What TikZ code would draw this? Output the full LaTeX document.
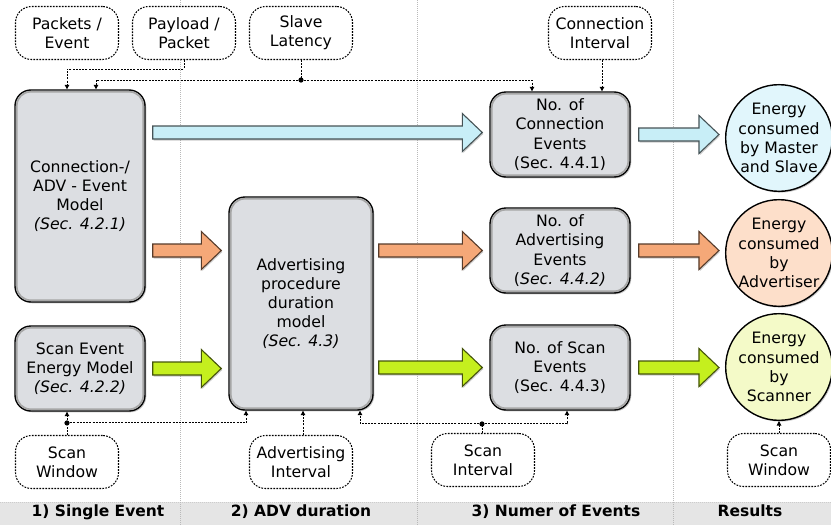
\documentclass[tikz,border=0pt]{standalone}
\usepackage{fontspec}
\setmainfont{DejaVu Sans}
\usetikzlibrary{arrows.meta,shadows,calc}
\definecolor{boxgray}{HTML}{DCDEE2}
\definecolor{arrblue}{HTML}{C8EEF7}
\definecolor{arrorange}{HTML}{F5A878}
\definecolor{arrgreen}{HTML}{C5EF1E}
\definecolor{circblue}{HTML}{E1F6FC}
\definecolor{circpeach}{HTML}{FDDFCA}
\definecolor{circyellow}{HTML}{F4FAC8}
\definecolor{bandgray}{HTML}{E5E5E5}
\tikzset{
 mainbox/.style={draw=black, line width=1.4pt, fill=boxgray, rounded corners=16pt, align=center, inner sep=0pt,
   drop shadow={opacity=0.45,shadow xshift=1.3pt,shadow yshift=-1.3pt}},
 param/.style={draw=black, line width=1.05pt, dash pattern=on 1.7pt off 1.3pt, rounded corners=16pt,
   minimum width=103pt, minimum height=53pt, align=center, inner sep=0pt, fill=white},
 result/.style={circle, draw=black, line width=1.4pt, minimum size=102pt, inner sep=0pt, align=center,
   drop shadow={opacity=0.45,shadow xshift=1.3pt,shadow yshift=-1.3pt}},
 conn/.style={line width=1pt, dash pattern=on 2pt off 1.2pt},
 tip/.style={-{Triangle[length=4.5pt,width=4.5pt]}},
 sepline/.style={gray!55, line width=0.8pt, dash pattern=on 1pt off 1pt},
 fat/.style={fill=#1, draw=#1!35!black, line width=1.1pt, line join=miter,
   drop shadow={opacity=0.4,shadow xshift=1pt,shadow yshift=-1.5pt}},
 bandlabel/.style={font=\fontsize{15.5}{19}\selectfont\bfseries, anchor=base},
}
\newcommand\fatarrow[3]{%
  \path[fat=#1] let \p1=(#2), \p2=(#3) in
   (\x1,\y1+6.5pt) -- (\x2-20pt,\y1+6.5pt) -- (\x2-20pt,\y1+19pt) -- (\x2,\y1)
   -- (\x2-20pt,\y1-19pt) -- (\x2-20pt,\y1-6.5pt) -- (\x1,\y1-6.5pt) -- cycle;}
\newcommand\innerglow[1]{%
  \draw[gray!70, line width=1.8pt, rounded corners=14pt]
   ([shift={(2.4pt,-2.4pt)}]#1.north west) rectangle ([shift={(-2.4pt,2.4pt)}]#1.south east);}
\begin{document}
\begin{tikzpicture}[x=1pt,y=-1pt, font=\fontsize{15.7}{19.2}\selectfont]
\useasboundingbox (0,0) rectangle (831,525);
% bottom band
\fill[bandgray] (0,502) rectangle (831,525);
\draw[sepline, gray!40] (0,502) -- (831,502);
% separators
\draw[sepline] (180,0) -- (180,525);
\draw[sepline] (417,0) -- (417,525);
\draw[sepline] (673,0) -- (673,525);

% main boxes
\node[mainbox, minimum width=130pt, minimum height=212pt] (cev) at (80,196)
  {Connection-/\\ADV - Event\\Model\\\textit{(Sec. 4.2.1)}};
\node[mainbox, minimum width=130pt, minimum height=85pt] (sev) at (80,368.5)
  {Scan Event\\Energy Model\\\textit{(Sec. 4.2.2)}};
\node[mainbox, minimum width=144pt, minimum height=213pt] (adv) at (301,303.5)
  {Advertising\\procedure\\duration\\model\\\textit{(Sec. 4.3)}};
\node[mainbox, minimum width=140pt, minimum height=85pt] (ncon) at (560,134.5)
  {No. of\\Connection\\Events\\(Sec. 4.4.1)};
\node[mainbox, minimum width=140pt, minimum height=85pt] (nadv) at (560,250.5)
  {No. of\\Advertising\\Events\\(\textit{Sec. 4.4.2)}};
\node[mainbox, minimum width=140pt, minimum height=85pt] (nscan) at (560,367.5)
  {No. of Scan\\Events\\(Sec. 4.4.3)};
\innerglow{cev}
\innerglow{sev}
\innerglow{adv}
\innerglow{ncon}
\innerglow{nadv}
\innerglow{nscan}

% result circles
\node[result, fill=circblue] (cms) at (779,138) {Energy\\consumed\\by Master\\and Slave};
\node[result, fill=circpeach] (cadv) at (779,253) {Energy\\consumed\\by\\Advertiser};
\node[result, fill=circyellow] (cscan) at (779,367) {Energy\\consumed\\by\\Scanner};

% parameter nodes
\node[param] (ppe) at (67,33) {Packets /\\Event};
\node[param] (ppp) at (184,33) {Payload /\\Packet};
\node[param] (sl) at (301,33) {Slave\\Latency};
\node[param] (ci) at (600,33) {Connection\\Interval};
\node[param] (swl) at (67,462) {Scan\\Window};
\node[param] (ai) at (301,462) {Advertising\\Interval};
\node[param] (si) at (483,460) {Scan\\Interval};
\node[param] (swr) at (779,460) {Scan\\Window};

% fat arrows
\coordinate (b1s) at ($(cev.east |- ncon.west)+(7pt,2pt)$);
\coordinate (b1t) at ($(ncon.west)+(-7pt,0)$);
\fatarrow{arrblue}{b1s}{b1t}
\coordinate (b2s) at ($(ncon.east)+(8pt,0)$);
\coordinate (b2t) at ($(cms.west |- ncon.east)+(-6pt,0)$);
\fatarrow{arrblue}{b2s}{b2t}
\coordinate (o1s) at ($(cev.east |- nadv.west)+(7pt,0)$);
\coordinate (o1t) at ($(adv.west |- nadv.west)+(-7pt,0)$);
\fatarrow{arrorange}{o1s}{o1t}
\coordinate (o2s) at ($(adv.east |- nadv.west)+(5pt,0)$);
\coordinate (o2t) at ($(nadv.west)+(-7pt,0)$);
\fatarrow{arrorange}{o2s}{o2t}
\coordinate (o3s) at ($(nadv.east)+(8pt,0)$);
\coordinate (o3t) at ($(cadv.west |- nadv.east)+(-6pt,0)$);
\fatarrow{arrorange}{o3s}{o3t}
\coordinate (g1s) at ($(sev.east)+(7pt,0)$);
\coordinate (g1t) at ($(adv.west |- sev.east)+(-7pt,0)$);
\fatarrow{arrgreen}{g1s}{g1t}
\coordinate (g2s) at ($(adv.east |- nscan.west)+(5pt,0)$);
\coordinate (g2t) at ($(nscan.west)+(-7pt,0)$);
\fatarrow{arrgreen}{g2s}{g2t}
\coordinate (g3s) at ($(nscan.east)+(8pt,0)$);
\coordinate (g3t) at ($(cscan.west |- nscan.east)+(-6pt,0)$);
\fatarrow{arrgreen}{g3s}{g3t}

% top dotted connectors
\draw[conn, tip] (ppp.south) -- ++(0,9) -| ([xshift=-13pt]cev.north);
\coordinate (slj) at ($(sl.south)+(0,-20pt)$);
\draw[conn] (sl.south) -- (slj);
\draw[conn, tip] (slj) -| ([xshift=16pt]cev.north);
\draw[conn, tip] (slj) -| ([xshift=-28pt]ncon.north);
\fill (slj) circle (2.6pt);
\draw[conn, tip] ([xshift=2pt]ci.south) -- ([xshift=2pt]ci.south |- ncon.north);

% bottom dotted connectors
\coordinate (swj) at ($(swl.north)+(0,12pt)$);
\draw[conn] (swl.north) -- (swj);
\draw[conn, tip] (swj) -- ([xshift=-13pt]sev.south);
\draw[conn, tip] (swj) -| ([xshift=-55pt]adv.south);
\fill (swj) circle (2.6pt);
\draw[conn, tip] ([xshift=2pt]ai.north) -- ([xshift=2pt]ai.north |- adv.south);
\coordinate (sij) at ($(si.north)+(-1pt,9pt)$);
\draw[conn] (si.north -| sij) -- (sij);
\draw[conn, tip] (sij) -| ([xshift=59pt]adv.south);
\draw[conn, tip] (sij) -| ([xshift=7pt]nscan.south);
\fill (sij) circle (2.6pt);
\draw[conn, tip] (swr.north) -- (cscan.south);

% band labels
\node[bandlabel] (l1) at (98,516) {1) Single Event};
\node[bandlabel] (l2) at (301,516) {2) ADV duration};
\node[bandlabel] (l3) at (556,516) {3) Numer of Events};
\node[bandlabel] (l4) at (750,516) {Results};
\end{tikzpicture}
\end{document}
